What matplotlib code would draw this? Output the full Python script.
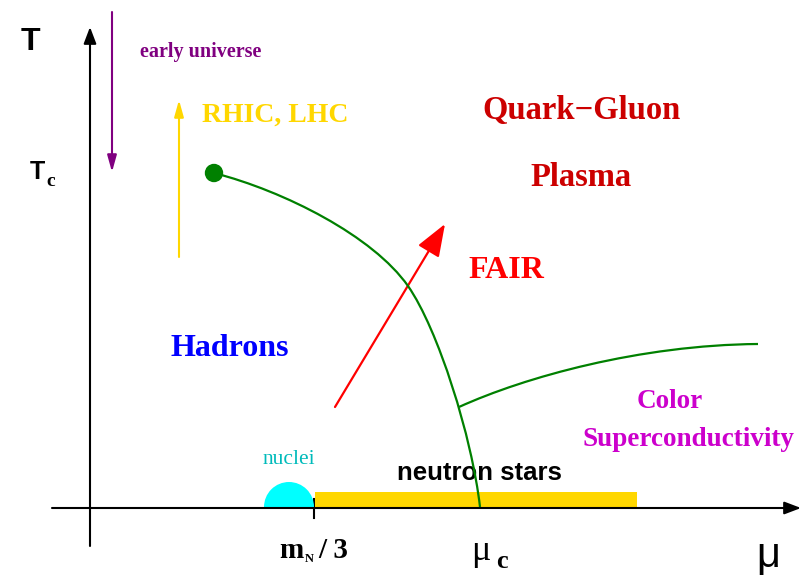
import matplotlib.pyplot as plt
from matplotlib.patches import FancyArrowPatch, Rectangle, Wedge, Circle, PathPatch
from matplotlib.path import Path

# --- schematic data, in picture units (x right, y down) ---
# crossover / first order line from the critical point down to mu_c
# (two cubic Bezier pieces: start, control, control, end, control, control, end)
boundary_x = [214, 284, 373, 408, 438, 472, 480]
boundary_y = [173, 191, 236, 286, 329, 437, 507]
# colour superconductivity boundary (one cubic Bezier piece)
csc_x = [459, 525, 640, 758]
csc_y = [407, 377, 345, 344]
critical_point = (214, 173)

axis_origin = (90, 508)
mu_nuclear = 314    # m_N / 3
nuclei_center = 289
nuclei_radius = 25
neutron_star_range = (315, 637)

fig = plt.figure(figsize=(8.01, 5.75), dpi=100)
ax = fig.add_axes([0, 0, 1, 1])
ax.set_xlim(0, 801)
ax.set_ylim(575, 0)
ax.axis("off")

serif = "Liberation Serif"
sans = "Liberation Sans"
green = "#008000"


def arrow(start, end, color, lw, head_w, head_l):
    ax.add_patch(FancyArrowPatch(start, end, color=color, lw=lw, mutation_scale=10,
                                 arrowstyle=f"-|>,head_width={head_w},head_length={head_l}",
                                 shrinkA=0, shrinkB=0, zorder=3))


def bezier(xs, ys):
    verts = list(zip(xs, ys))
    codes = [Path.MOVETO] + [Path.CURVE4] * (len(verts) - 1)
    ax.add_patch(PathPatch(Path(verts, codes), facecolor="none",
                           edgecolor=green, lw=1.6, zorder=4))


# axes
arrow((axis_origin[0], 546), (axis_origin[0], 27), "black", 1.5, 0.38, 1.0)
arrow((52, axis_origin[1]), (801, axis_origin[1]), "black", 1.5, 0.38, 1.0)
ax.plot([mu_nuclear, mu_nuclear], [499, 518], color="black", lw=1.5)

# nuclei and neutron stars
ax.add_patch(Wedge((nuclei_center, axis_origin[1] - 1), nuclei_radius, 180, 360,
                   facecolor="#00FFFF", edgecolor="none", zorder=2))
ax.add_patch(Rectangle((neutron_star_range[0], 492),
                       neutron_star_range[1] - neutron_star_range[0], 15,
                       facecolor="#FFD700", edgecolor="none", zorder=2))

# phase boundaries
bezier(boundary_x, boundary_y)
bezier(csc_x, csc_y)
ax.add_patch(Circle(critical_point, 8.5, color=green, zorder=5))

# experiments / history
arrow((112, 12), (112, 172), "#800080", 1.5, 0.28, 1.0)
arrow((179, 257), (179, 100), "#FFD700", 1.5, 0.28, 1.0)
arrow((335, 407), (445, 224), "#FF0000", 1.6, 0.75, 2.0)

# labels
ax.text(30, 42, "T", fontfamily=sans, fontweight="bold", fontsize=23,
        ha="center", va="center")
ax.text(37, 172, "T", fontfamily=sans, fontweight="bold", fontsize=18,
        ha="center", va="center")
ax.text(46, 181, "c", fontfamily=serif, fontweight="bold", fontsize=14,
        ha="left", va="center")
ax.text(201, 52, "early universe", fontfamily=serif, fontweight="bold",
        fontsize=14.5, color="#800080", ha="center", va="center")
ax.text(275, 115, "RHIC, LHC", fontfamily=serif, fontweight="bold",
        fontsize=20, color="#FFD700", ha="center", va="center")
ax.text(581, 110, "Quark\u2212Gluon", fontfamily=serif, fontweight="bold",
        fontsize=23.5, color="#CC0000", ha="center", va="center")
ax.text(581, 178, "Plasma", fontfamily=serif, fontweight="bold",
        fontsize=23.5, color="#CC0000", ha="center", va="center")
ax.text(506, 271, "FAIR", fontfamily=serif, fontweight="bold",
        fontsize=23, color="#FF0000", ha="center", va="center")
ax.text(230, 349, "Hadrons", fontfamily=serif, fontweight="bold",
        fontsize=23, color="#0000FF", ha="center", va="center")
ax.text(670, 401, "Color", fontfamily=serif, fontweight="bold",
        fontsize=19.5, color="#CC00CC", ha="center", va="center")
ax.text(688, 440, "Superconductivity", fontfamily=serif, fontweight="bold",
        fontsize=19.5, color="#CC00CC", ha="center", va="center")
ax.text(289, 459, "nuclei", fontfamily=serif, fontsize=15.5,
        color="#00BBBB", ha="center", va="center")
ax.text(479, 473, "neutron stars", fontfamily=sans, fontweight="bold",
        fontsize=18.5, ha="center", va="center")

# tick labels under the mu axis
ax.text(279, 550, "m", fontfamily=serif, fontweight="bold", fontsize=21,
        ha="left", va="center")
ax.text(305, 559, "N", fontfamily=serif, fontweight="bold", fontsize=9,
        ha="left", va="center")
ax.text(318, 550, "/ 3", fontfamily=serif, fontweight="bold", fontsize=21,
        ha="left", va="center")
ax.text(481, 551, "\u03bc", fontfamily=serif, fontsize=26, ha="center", va="center")
ax.text(496, 561, "c", fontfamily=serif, fontweight="bold", fontsize=19,
        ha="left", va="center")
ax.text(768, 556, "\u03bc", fontfamily=sans, fontsize=30, ha="center", va="center")

fig.savefig("out.png", dpi=100)
